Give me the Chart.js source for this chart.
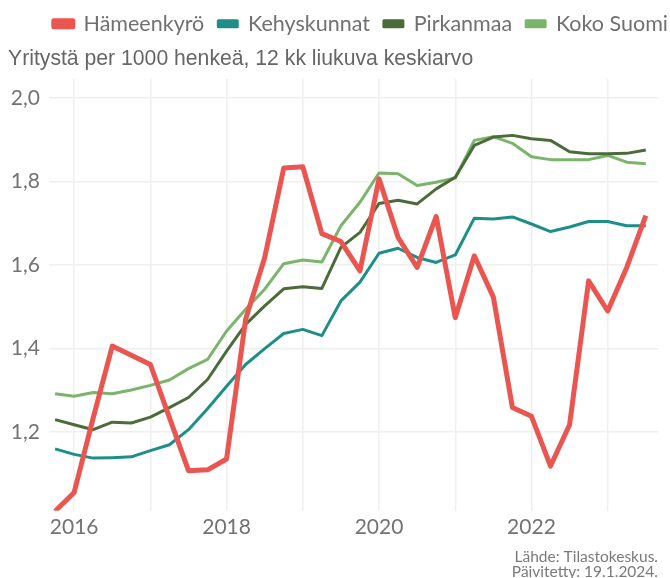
<!DOCTYPE html>
<html lang="fi">

<head>
    <meta charset="UTF-8" />
    <title>Yritystä per 1000 henkeä</title>
    <script src="https://cdn.jsdelivr.net/npm/chart.js"></script>
    <style>
        body {
            margin: 0;
            background: #ffffff;
        }

        .chart-container {
            width: 670px;
            height: 578px;
        }
    </style>
</head>

<body>
    <div class="chart-container">
        <canvas id="yrityksetChart"></canvas>
    </div>

    <script>
        // Quarters, 2015 Q4 ... 2023 Q3 (as decimal years)
        const quarters = [
            2015.75, 2016.0, 2016.25, 2016.5, 2016.75, 2017.0, 2017.25, 2017.5,
            2017.75, 2018.0, 2018.25, 2018.5, 2018.75, 2019.0, 2019.25, 2019.5,
            2019.75, 2020.0, 2020.25, 2020.5, 2020.75, 2021.0, 2021.25, 2021.5,
            2021.75, 2022.0, 2022.25, 2022.5, 2022.75, 2023.0, 2023.25, 2023.5
        ];

        const hameenkyro = [
            1.011, 1.056, 1.234, 1.406, 1.384, 1.362, 1.235, 1.108,
            1.110, 1.136, 1.470, 1.618, 1.832, 1.835, 1.675, 1.656,
            1.586, 1.806, 1.666, 1.594, 1.716, 1.474, 1.622, 1.523,
            1.259, 1.238, 1.119, 1.218, 1.562, 1.490, 1.594, 1.718
        ];

        const kehyskunnat = [
            1.160, 1.147, 1.138, 1.139, 1.141, 1.156, 1.170, 1.206,
            1.256, 1.310, 1.362, 1.400, 1.436, 1.446, 1.431, 1.514,
            1.559, 1.628, 1.640, 1.618, 1.606, 1.624, 1.712, 1.710,
            1.715, 1.698, 1.680, 1.691, 1.704, 1.704, 1.694, 1.694
        ];

        const pirkanmaa = [
            1.230, 1.218, 1.206, 1.224, 1.222, 1.236, 1.259, 1.283,
            1.326, 1.394, 1.458, 1.502, 1.543, 1.548, 1.544, 1.642,
            1.678, 1.747, 1.755, 1.746, 1.782, 1.810, 1.886, 1.906,
            1.910, 1.902, 1.898, 1.871, 1.866, 1.866, 1.867, 1.875
        ];

        const kokoSuomi = [
            1.292, 1.286, 1.295, 1.292, 1.301, 1.312, 1.325, 1.352,
            1.374, 1.442, 1.494, 1.542, 1.603, 1.612, 1.607, 1.694,
            1.750, 1.820, 1.818, 1.790, 1.798, 1.808, 1.898, 1.907,
            1.891, 1.859, 1.852, 1.852, 1.852, 1.862, 1.846, 1.842
        ];

        const yearTicks = [2016, 2017, 2018, 2019, 2020, 2021, 2022, 2023];
        const valueTicks = [1.2, 1.4, 1.6, 1.8, 2.0];

        function toPoints(values) {
            return values.map((v, i) => ({ x: quarters[i], y: v }));
        }

        const tickColor = "#737373";
        const gridColor = "#efefef";

        // legend sits further right than the plot area in the original
        const legendShift = {
            id: "legendShift",
            afterLayout(chart) {
                chart.legend.left += 24;
                chart.legend.right += 24;
            },
        };

        const chartData = {
            datasets: [
                {
                    label: "Hämeenkyrö",
                    data: toPoints(hameenkyro),
                    borderColor: "#eb5550",
                    backgroundColor: "#eb5550",
                    borderWidth: 5,
                },
                {
                    label: "Kehyskunnat",
                    data: toPoints(kehyskunnat),
                    borderColor: "#1e8e89",
                    backgroundColor: "#1e8e89",
                    borderWidth: 3,
                },
                {
                    label: "Pirkanmaa",
                    data: toPoints(pirkanmaa),
                    borderColor: "#4b6b3a",
                    backgroundColor: "#4b6b3a",
                    borderWidth: 3,
                },
                {
                    label: "Koko Suomi",
                    data: toPoints(kokoSuomi),
                    borderColor: "#7bb46b",
                    backgroundColor: "#7bb46b",
                    borderWidth: 3,
                },
            ],
        };

        const chartConfig = {
            type: "line",
            data: chartData,
            plugins: [legendShift],
            options: {
                responsive: true,
                maintainAspectRatio: false,
                animation: false,
                layout: {
                    padding: { left: 8, right: 12, top: -1, bottom: -2 },
                },
                elements: {
                    point: { radius: 0 },
                    line: { tension: 0, borderJoinStyle: "round" },
                },
                plugins: {
                    legend: {
                        display: true,
                        position: "top",
                        align: "end",
                        weight: 1000,
                        labels: {
                            boxWidth: 19,
                            boxHeight: 6,
                            padding: 14,
                            color: "#707070",
                            font: { family: "Lato", size: 21.5 },
                        },
                    },
                    title: {
                        display: true,
                        text: "Yritystä per 1000 henkeä, 12 kk liukuva keskiarvo",
                        align: "start",
                        weight: 100,
                        color: "#666666",
                        font: { family: "Liberation Sans", size: 21.2, weight: "normal" },
                        padding: { top: 2, bottom: 7 },
                    },
                    subtitle: {
                        display: true,
                        position: "bottom",
                        align: "end",
                        text: ["Lähde: Tilastokeskus.", "Päivitetty: 19.1.2024."],
                        color: "#7a7a7a",
                        font: { family: "Lato", size: 15.5, lineHeight: 1.0 },
                        padding: { top: 5, bottom: 0 },
                    },
                    tooltip: { enabled: false },
                },
                scales: {
                    x: {
                        type: "linear",
                        min: 2015.67,
                        max: 2023.66,
                        afterBuildTicks: (axis) => {
                            axis.ticks = yearTicks.map((v) => ({ value: v }));
                        },
                        ticks: {
                            color: tickColor,
                            font: { family: "Lato", size: 21 },
                            padding: 4,
                            autoSkip: false,
                            maxRotation: 0,
                            callback: (v) => (v % 2 === 0 ? String(v) : ""),
                        },
                        grid: { color: gridColor, lineWidth: 1.5, drawTicks: false },
                        border: { display: false },
                    },
                    y: {
                        min: 1.012,
                        max: 2.045,
                        afterBuildTicks: (axis) => {
                            axis.ticks = valueTicks.map((v) => ({ value: v }));
                        },
                        afterFit: (axis) => {
                            axis.width = 41;
                        },
                        ticks: {
                            color: tickColor,
                            font: { family: "Lato", size: 21 },
                            padding: 9,
                            callback: (v) => v.toFixed(1).replace(".", ","),
                        },
                        grid: { color: gridColor, lineWidth: 1.5, drawTicks: false },
                        border: { display: false },
                    },
                },
            },
        };

        const ctx = document.getElementById("yrityksetChart").getContext("2d");
        new Chart(ctx, chartConfig);
    </script>
</body>

</html>
